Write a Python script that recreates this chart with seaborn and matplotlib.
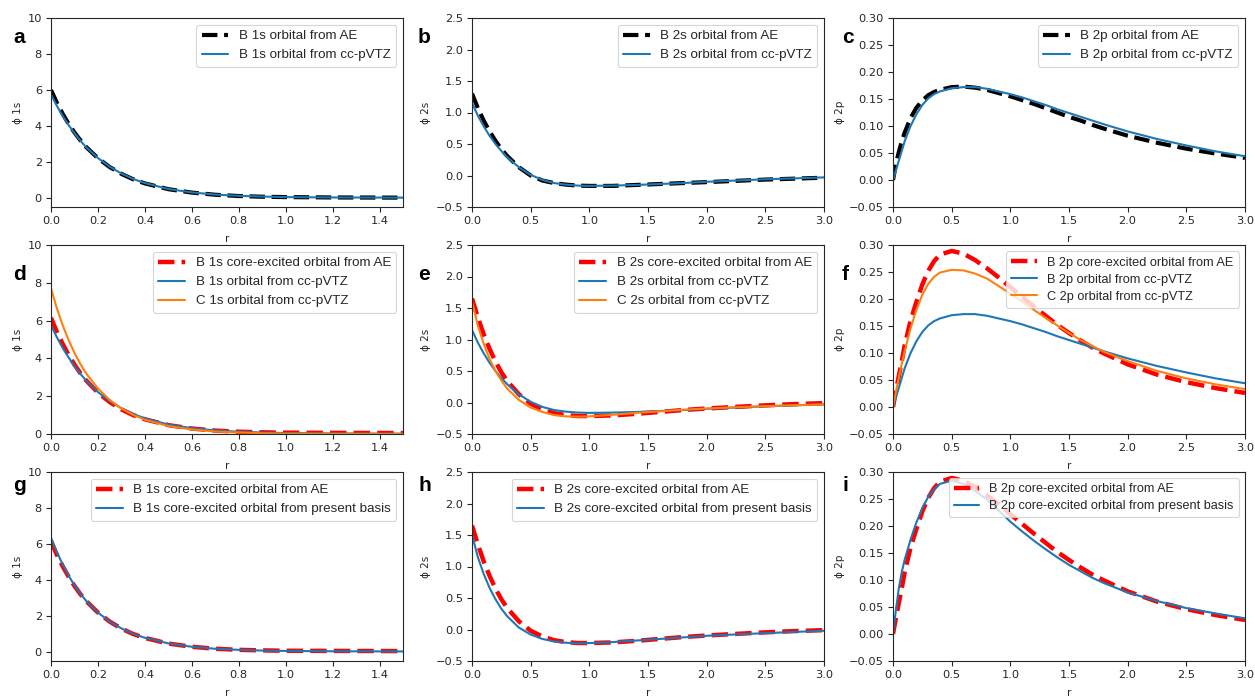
import matplotlib
matplotlib.use("Agg")
import matplotlib.pyplot as plt
import pandas as pd
import seaborn as sns

# ---------------- radial grids ----------------
r_1s = [0.0, 0.025, 0.05, 0.075, 0.1, 0.125, 0.15, 0.2, 0.25, 0.3, 0.35, 0.4,
        0.5, 0.6, 0.7, 0.8, 0.9, 1.0, 1.2, 1.5]
r_2s = [0.0, 0.05, 0.1, 0.15, 0.2, 0.25, 0.3, 0.4, 0.5, 0.6, 0.7, 0.8, 0.9,
        1.0, 1.2, 1.4, 1.6, 1.8, 2.0, 2.25, 2.5, 2.75, 3.0]
r_2p = [0.0, 0.025, 0.05, 0.075, 0.1, 0.15, 0.2, 0.25, 0.3, 0.35, 0.4, 0.5,
        0.6, 0.7, 0.8, 0.9, 1.0, 1.1, 1.2, 1.3, 1.4, 1.5, 1.6, 1.7, 1.8, 2.0,
        2.25, 2.5, 2.75, 3.0]

# ---------------- 1s orbitals ----------------
b1s_ae = [6.00, 5.29, 4.67, 4.12, 3.64, 3.21, 2.83, 2.21, 1.72, 1.34, 1.04, 0.81,
          0.49, 0.30, 0.18, 0.11, 0.07, 0.05, 0.03, 0.02]
b1s_ccpvtz = [5.75, 5.12, 4.55, 4.05, 3.60, 3.19, 2.82, 2.22, 1.74, 1.36, 1.06, 0.83,
              0.50, 0.31, 0.19, 0.12, 0.08, 0.05, 0.03, 0.02]
b1s_core_ae = [6.15, 5.40, 4.76, 4.18, 3.67, 3.22, 2.83, 2.19, 1.69, 1.30, 1.00, 0.78,
               0.47, 0.29, 0.18, 0.12, 0.09, 0.07, 0.06, 0.05]
c1s_ccpvtz = [7.70, 6.65, 5.75, 4.97, 4.29, 3.71, 3.20, 2.41, 1.80, 1.35, 1.01, 0.76,
              0.42, 0.24, 0.13, 0.08, 0.04, 0.02, 0.01, 0.00]
b1s_core_present = [6.35, 5.55, 4.86, 4.24, 3.71, 3.24, 2.84, 2.19, 1.69, 1.31, 1.01, 0.79,
                    0.48, 0.29, 0.18, 0.12, 0.08, 0.06, 0.04, 0.03]

# ---------------- 2s orbitals ----------------
b2s_ae = [1.30, 1.07, 0.87, 0.70, 0.55, 0.42, 0.31, 0.13, 0.00, -0.08, -0.12, -0.145,
          -0.16, -0.165, -0.165, -0.15, -0.135, -0.12, -0.105, -0.085, -0.065, -0.05, -0.035]
b2s_ccpvtz = [1.15, 0.95, 0.78, 0.63, 0.50, 0.39, 0.29, 0.13, 0.01, -0.07, -0.12, -0.145,
              -0.16, -0.165, -0.16, -0.15, -0.135, -0.12, -0.10, -0.08, -0.06, -0.045, -0.03]
b2s_core_ae = [1.65, 1.35, 1.08, 0.85, 0.65, 0.48, 0.34, 0.13, -0.02, -0.11, -0.17, -0.20,
               -0.215, -0.215, -0.205, -0.18, -0.15, -0.12, -0.095, -0.07, -0.045, -0.025, -0.01]
c2s_ccpvtz = [1.60, 1.22, 0.93, 0.69, 0.50, 0.35, 0.22, 0.04, -0.08, -0.15, -0.20, -0.22,
              -0.225, -0.22, -0.195, -0.165, -0.14, -0.115, -0.095, -0.075, -0.058, -0.043, -0.03]
b2s_core_present = [1.50, 1.15, 0.88, 0.66, 0.48, 0.33, 0.21, 0.03, -0.08, -0.15, -0.19, -0.21,
                    -0.22, -0.215, -0.20, -0.175, -0.15, -0.125, -0.10, -0.078, -0.058, -0.038, -0.02]

# ---------------- 2p orbitals ----------------
b2p_ae = [0.0, 0.030, 0.052, 0.072, 0.088, 0.115, 0.134, 0.147, 0.157, 0.163, 0.167, 0.172,
          0.173, 0.171, 0.167, 0.161, 0.155, 0.148, 0.141, 0.133, 0.125, 0.117, 0.110, 0.102,
          0.095, 0.082, 0.069, 0.058, 0.049, 0.041]
b2p_ccpvtz = [0.0, 0.018, 0.036, 0.054, 0.072, 0.100, 0.122, 0.139, 0.151, 0.159, 0.164, 0.170,
              0.172, 0.172, 0.169, 0.164, 0.159, 0.153, 0.146, 0.139, 0.131, 0.124, 0.117, 0.110,
              0.103, 0.090, 0.076, 0.064, 0.053, 0.044]
b2p_core_ae = [0.0, 0.030, 0.058, 0.085, 0.115, 0.160, 0.195, 0.227, 0.252, 0.270, 0.282, 0.289,
               0.284, 0.272, 0.257, 0.240, 0.222, 0.204, 0.186, 0.169, 0.152, 0.137, 0.123, 0.110,
               0.099, 0.079, 0.060, 0.046, 0.035, 0.026]
c2p_ccpvtz = [0.0, 0.028, 0.055, 0.080, 0.104, 0.146, 0.180, 0.208, 0.228, 0.241, 0.249, 0.254,
              0.253, 0.247, 0.238, 0.224, 0.210, 0.195, 0.180, 0.165, 0.151, 0.137, 0.124, 0.113,
              0.102, 0.085, 0.067, 0.053, 0.042, 0.033]
b2p_core_present = [0.0, 0.045, 0.085, 0.115, 0.138, 0.175, 0.207, 0.233, 0.254, 0.268, 0.278, 0.284,
                    0.278, 0.265, 0.249, 0.229, 0.208, 0.190, 0.173, 0.157, 0.142, 0.128, 0.116, 0.104,
                    0.094, 0.077, 0.061, 0.048, 0.038, 0.029]

panel_letters = ["a", "b", "c", "d", "e", "f", "g", "h", "i"]

BLUE = "#1f77b4"
ORANGE = "#ff7f0e"

sns.set_theme(context="notebook", style="ticks")
plt.rcParams.update({
    "font.family": ["DejaVu Sans"],
    "axes.edgecolor": "0.15",
    "axes.linewidth": 0.8,
    "xtick.major.size": 3.5,
    "ytick.major.size": 3.5,
    "xtick.major.width": 0.8,
    "ytick.major.width": 0.8,
    "xtick.major.pad": 3.0,
    "ytick.major.pad": 3.0,
    "xtick.labelsize": 8.2,
    "ytick.labelsize": 8.2,
    "axes.labelsize": 7.5,
    "xtick.color": "0.15",
    "ytick.color": "0.15",
    "text.color": "0.15",
    "lines.scale_dashes": True,
})

W, H = 1255, 696
fig = plt.figure(figsize=(W / 100, H / 100), dpi=100)
fig.patch.set_facecolor("white")

col_left = [51, 472, 893]
row_top = [18, 245, 472]
ax_w, ax_h = 352, 189

# (grid, y-limits, y-label, curves, legend font size, legend row spacing)
panels = [
    (r_1s, (-0.5, 10), "ϕ 1s", [
        (b1s_ae, "black", "--", 3.0, "B 1s orbital from AE"),
        (b1s_ccpvtz, BLUE, "-", 1.5, "B 1s orbital from cc-pVTZ")], 9.6, 0.5),
    (r_2s, (-0.5, 2.5), "ϕ 2s", [
        (b2s_ae, "black", "--", 3.0, "B 2s orbital from AE"),
        (b2s_ccpvtz, BLUE, "-", 1.5, "B 2s orbital from cc-pVTZ")], 9.6, 0.5),
    (r_2p, (-0.05, 0.30), "ϕ 2p", [
        (b2p_ae, "black", "--", 3.0, "B 2p orbital from AE"),
        (b2p_ccpvtz, BLUE, "-", 1.5, "B 2p orbital from cc-pVTZ")], 9.6, 0.5),
    (r_1s, (0, 10), "ϕ 1s", [
        (b1s_core_ae, "red", "--", 3.2, "B 1s core-excited orbital from AE"),
        (b1s_ccpvtz, BLUE, "-", 1.5, "B 1s orbital from cc-pVTZ"),
        (c1s_ccpvtz, ORANGE, "-", 1.5, "C 1s orbital from cc-pVTZ")], 9.6, 0.5),
    (r_2s, (-0.5, 2.5), "ϕ 2s", [
        (b2s_core_ae, "red", "--", 3.2, "B 2s core-excited orbital from AE"),
        (b2s_ccpvtz, BLUE, "-", 1.5, "B 2s orbital from cc-pVTZ"),
        (c2s_ccpvtz, ORANGE, "-", 1.5, "C 2s orbital from cc-pVTZ")], 9.6, 0.5),
    (r_2p, (-0.05, 0.30), "ϕ 2p", [
        (b2p_core_ae, "red", "--", 3.2, "B 2p core-excited orbital from AE"),
        (b2p_ccpvtz, BLUE, "-", 1.5, "B 2p orbital from cc-pVTZ"),
        (c2p_ccpvtz, ORANGE, "-", 1.5, "C 2p orbital from cc-pVTZ")], 9.2, 0.4),
    (r_1s, (-0.5, 10), "ϕ 1s", [
        (b1s_core_ae, "red", "--", 3.2, "B 1s core-excited orbital from AE"),
        (b1s_core_present, BLUE, "-", 1.5, "B 1s core-excited orbital from present basis")], 9.6, 0.5),
    (r_2s, (-0.5, 2.5), "ϕ 2s", [
        (b2s_core_ae, "red", "--", 3.2, "B 2s core-excited orbital from AE"),
        (b2s_core_present, BLUE, "-", 1.5, "B 2s core-excited orbital from present basis")], 9.6, 0.5),
    (r_2p, (-0.05, 0.30), "ϕ 2p", [
        (b2p_core_ae, "red", "--", 3.2, "B 2p core-excited orbital from AE"),
        (b2p_core_present, BLUE, "-", 1.5, "B 2p core-excited orbital from present basis")], 9.1, 0.4),
]

letter_x = [13, 418, 842]
letter_base = [43, 280, 491]

for k, (grid, ylim, ylab, curves, lsize, lspace) in enumerate(panels):
    row, col = divmod(k, 3)
    left = col_left[col] / W
    bottom = 1 - (row_top[row] + ax_h) / H
    ax = fig.add_axes([left, bottom, ax_w / W, ax_h / H])
    for vals, color, ls, lw, label in curves:
        df = pd.DataFrame({"r": grid, "phi": vals})
        sns.lineplot(data=df, x="r", y="phi", ax=ax, color=color,
                     linestyle=ls, linewidth=lw, label=label, sort=False)
    ax.set_xlim(0, grid[-1])
    ax.set_ylim(*ylim)
    ax.set_xlabel("r", fontsize=7.5, labelpad=6)
    ax.set_ylabel(ylab, fontsize=7.5, labelpad=3)
    for side in ["top", "right", "left", "bottom"]:
        ax.spines[side].set_visible(True)
    leg = ax.legend(loc="upper right", prop={"family": "Liberation Sans", "size": lsize},
                    frameon=True, framealpha=0.8, edgecolor="0.8", fancybox=True,
                    labelspacing=lspace, handlelength=2.0, borderpad=0.4)
    leg.get_frame().set_linewidth(0.8)
    fig.text(letter_x[col] / W, 1 - letter_base[row] / H, panel_letters[k],
             fontsize=15, fontweight="bold", family="Liberation Sans",
             color="black", ha="left", va="baseline")

fig.savefig("out.png", dpi=100, facecolor="white")
